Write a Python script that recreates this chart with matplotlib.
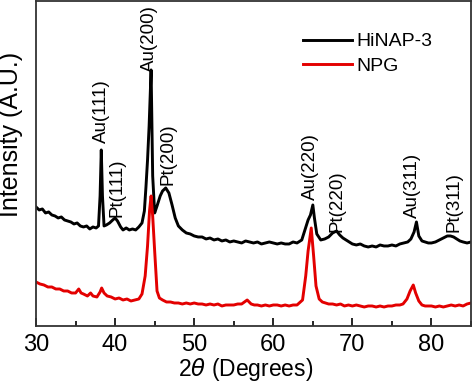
import matplotlib
matplotlib.use("Agg")
import matplotlib.pyplot as plt

plt.rcParams['font.family'] = ['Liberation Sans', 'DejaVu Sans']
plt.rcParams['mathtext.fontset'] = 'dejavusans'

# 2theta (degrees) and intensity (a.u.)
hinap_x = [30.0, 30.4, 30.8, 31.2, 31.6, 32.0, 32.4, 32.8, 33.2, 33.6, 34.0, 34.4,
           34.8, 35.2, 35.6, 36.0, 36.4, 36.8, 37.2, 37.6, 37.9, 38.1, 38.25, 38.4,
           38.6, 38.9, 39.3, 39.7, 40.0, 40.3, 40.7, 41.0, 41.4, 41.8, 42.2, 42.6,
           43.0, 43.4, 43.7, 43.9, 44.1, 44.3, 44.55, 44.75, 45.0, 45.3, 45.7, 46.0,
           46.4, 46.8, 47.2, 47.6, 48.0, 48.5, 49.0, 49.5, 50.0, 50.5, 51.0, 51.5,
           52.0, 52.5, 53.0, 53.5, 54.0, 54.5, 55.0, 55.5, 56.0, 56.5, 57.0, 57.5,
           58.0, 58.5, 59.0, 59.5, 60.0, 60.5, 61.0, 61.5, 62.0, 62.5, 63.0, 63.6,
           64.0, 64.4, 64.7, 65.0, 65.2, 65.5, 66.0, 66.5, 67.0, 67.5, 68.0, 68.4,
           68.8, 69.2, 69.6, 70.0, 70.5, 71.0, 71.5, 72.0, 72.5, 73.0, 73.5, 74.0,
           74.5, 75.0, 75.5, 76.0, 76.5, 77.0, 77.4, 77.8, 78.1, 78.4, 78.8, 79.2,
           79.6, 80.0, 80.5, 81.0, 81.5, 82.0, 82.4, 82.8, 83.2, 83.6, 84.0, 84.5,
           85.0]
hinap_y = [119, 116, 117, 113, 114, 111, 110, 108, 109, 106, 105, 104,
           102, 103, 100, 99, 100, 97, 99, 98, 100, 130, 176, 130,
           100, 101, 103, 106, 108, 105, 99, 96, 98, 96, 97, 96,
           99, 103, 115, 139, 166, 200, 256, 150, 113, 120, 130, 135,
           138, 133, 121, 108, 100, 96, 93, 92, 90, 89, 89, 87,
           88, 86, 87, 85, 86, 84, 85, 84, 83, 85, 84, 83,
           84, 82, 83, 84, 83, 82, 83, 82, 82, 84, 83, 86,
           96, 106, 111, 121, 108, 92, 86, 87, 89, 93, 95, 91,
           88, 86, 84, 82, 81, 82, 80, 79, 80, 79, 81, 80,
           80, 81, 80, 82, 83, 84, 87, 94, 104, 90, 85, 84,
           83, 83, 84, 86, 88, 90, 90, 89, 87, 85, 84, 83,
           84]

npg_x = [30.0, 30.5, 31.0, 31.5, 32.0, 32.5, 33.0, 33.5, 34.0, 34.5, 35.0, 35.4,
         35.7, 36.0, 36.5, 36.9, 37.2, 37.7, 38.1, 38.3, 38.6, 39.0, 39.5, 40.0,
         40.5, 41.0, 41.5, 42.0, 42.5, 43.0, 43.4, 43.8, 44.1, 44.35, 44.55, 44.75,
         45.0, 45.3, 45.6, 46.0, 46.5, 47.0, 47.5, 48.0, 48.5, 49.0, 49.5, 50.0,
         50.5, 51.0, 51.5, 52.0, 52.5, 53.0, 53.5, 54.0, 54.5, 55.0, 55.5, 56.0,
         56.7, 57.2, 57.6, 58.0, 58.5, 59.0, 59.5, 60.0, 60.5, 61.0, 61.5, 62.0,
         62.5, 63.0, 63.7, 64.1, 64.4, 64.8, 65.1, 65.4, 65.8, 66.2, 66.6, 67.0,
         67.5, 68.0, 68.5, 69.0, 69.5, 70.0, 70.5, 71.0, 71.5, 72.0, 72.5, 73.0,
         73.5, 74.0, 74.5, 75.0, 75.5, 76.0, 76.4, 76.9, 77.3, 77.7, 78.0, 78.4,
         78.8, 79.2, 79.6, 80.0, 80.5, 81.0, 81.5, 82.0, 82.5, 83.0, 83.5, 84.0,
         84.5, 85.0]
npg_y = [44, 42, 41, 39, 39, 37, 37, 35, 35, 33, 33, 37,
         33, 32, 30, 33, 30, 29, 34, 38, 33, 30, 29, 27,
         28, 26, 27, 25, 26, 27, 32, 50, 80, 115, 130, 110,
         75, 35, 28, 26, 24, 24, 23, 23, 22, 23, 22, 23,
         22, 22, 21, 22, 21, 22, 20, 21, 21, 21, 22, 22,
         26, 22, 21, 21, 20, 21, 20, 21, 21, 20, 21, 20,
         21, 21, 26, 50, 75, 98, 70, 40, 27, 24, 23, 22,
         22, 21, 22, 20, 21, 20, 21, 20, 19, 20, 20, 19,
         20, 19, 20, 20, 21, 21, 22, 27, 35, 41, 33, 25,
         21, 20, 20, 20, 19, 20, 19, 20, 21, 20, 21, 20,
         22, 23]

# peak labels: text, 2theta, height of the label's lower end
peak_labels = ["Au(111)", "Pt(111)", "Au(200)", "Pt(200)",
               "Au(220)", "Pt(220)", "Au(311)", "Pt(311)"]
peak_pos = [38.3, 40.3, 44.4, 46.7, 64.7, 68.0, 77.6, 82.8]
peak_base = [183, 109, 254, 141, 126, 94, 108, 94]

fig = plt.figure(figsize=(4.74, 3.82), dpi=100)
ax = fig.add_axes([0.076, 0.1466, 0.9177, 0.851])

ax.plot(hinap_x, hinap_y, color='black', lw=2.1, label='HiNAP-3')
ax.plot(npg_x, npg_y, color='#e30000', lw=2.1, label='NPG')

for txt, px, py in zip(peak_labels, peak_pos, peak_base):
    ax.text(px, py, txt, rotation=90, ha='center', va='bottom', fontsize=13.5)

ax.set_xlim(30, 85)
ax.set_ylim(0, 325)
ax.set_xticks([30, 40, 50, 60, 70, 80])
ax.set_xticks([35, 45, 55, 65, 75, 85], minor=True)
ax.set_yticks([])
ax.tick_params(axis='x', which='major', direction='in', length=6, width=1.2,
               labelsize=17, pad=6)
ax.tick_params(axis='x', which='minor', direction='in', length=3.5, width=1.2)
for sp in ax.spines.values():
    sp.set_linewidth(1.3)
    sp.set_color('#333333')

ax.set_xlabel(r'2$\theta$ (Degrees)', fontsize=16.5)
ax.xaxis.set_label_coords(0.483, -0.093)
ax.set_ylabel('Intensity (A.U.)', fontsize=18)
ax.yaxis.set_label_coords(-0.031, 0.59)

ax.legend(loc='upper left', bbox_to_anchor=(0.614, 0.902), frameon=False,
          fontsize=14, handlelength=2.5, handletextpad=0.25, labelspacing=0.35,
          borderaxespad=0, borderpad=0)

fig.savefig('out.png', dpi=100)
